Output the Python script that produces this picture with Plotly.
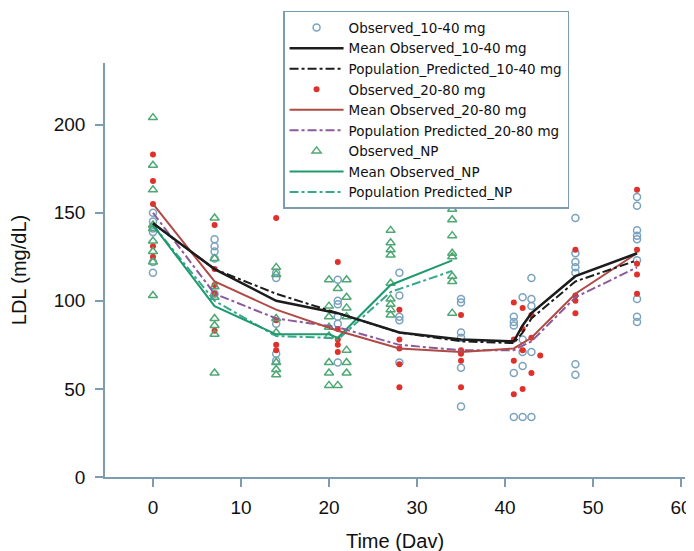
import plotly.graph_objects as go

# ---------------- data ----------------
# Observed 10-40 mg (open circles)
obs1040_x = [0, 0, 0, 0, 0, 0,
             7, 7, 7, 7, 7,
             14, 14, 14, 14, 14,
             21, 21, 21, 21, 21, 21,
             28, 28, 28, 28, 28,
             35, 35, 35, 35, 35, 35,
             41, 41, 41, 41, 41, 42, 42, 42, 42, 42, 43, 43, 43, 43, 43,
             48, 48, 48, 48, 48, 48, 48,
             55, 55, 55, 55, 55, 55, 55, 55, 55]
obs1040_y = [150, 145, 141, 122, 116, 139,
             135, 131, 128, 124, 104,
             116, 113, 87, 70, 66,
             112, 100, 98, 91, 87, 65,
             116, 103, 91, 89, 65,
             101, 99, 82, 79, 62, 40,
             91, 88, 86, 59, 34, 102, 78, 71, 63, 34, 113, 101, 97, 71, 34,
             147, 127, 122, 119, 116, 64, 58,
             159, 154, 140, 137, 135, 123, 101, 91, 88]

# Observed 20-80 mg (filled red dots)
obs2080_x = [0, 0, 0, 0, 0,
             7, 7, 7, 7, 7,
             14, 14, 14, 14,
             21, 21, 21, 21, 21,
             28, 28, 28, 28, 28,
             35, 35, 35, 35, 35,
             41, 41, 41, 41, 42, 42, 42, 42, 43, 43, 43, 44,
             48, 48, 48, 48,
             55, 55, 55, 55, 55]
obs2080_y = [183, 168, 155, 131, 125,
             143, 118, 109, 104, 83,
             147, 89, 75, 72,
             122, 84, 78, 75, 71,
             95, 78, 73, 64, 51,
             92, 72, 70, 66, 51,
             99, 78, 66, 47, 96, 84, 72, 50, 92, 79, 59, 69,
             129, 103, 100, 93,
             163, 129, 121, 115, 104]

# Observed NP (open triangles)
obsnp_x = [0, 0, 0, 0, 0, 0, 0, 0, 0,
           7, 7, 7, 7, 7, 7, 7, 7,
           14, 14, 14, 14, 14, 14, 14,
           20, 22, 21, 22, 20, 22, 20, 22, 20, 20, 22, 20, 22, 20, 22, 20, 21,
           27, 27, 27, 27, 27, 27, 27, 27, 27,
           34, 34, 34, 34, 34, 34, 34, 34]
obsnp_y = [204, 177, 163, 143, 141, 134, 128, 122, 103,
           147, 124, 108, 102, 90, 86, 81, 59,
           119, 115, 90, 82, 65, 61, 58,
           112, 112, 107, 102, 97, 96, 91, 91, 85, 80, 72, 65, 65, 59, 59, 52, 52,
           140, 133, 129, 126, 110, 101, 98, 95, 92,
           152, 146, 137, 127, 125, 114, 111, 93]

# Mean observed / population predicted curves
mean1040_x = [0, 7, 14, 21, 28, 35, 41, 42, 43, 48, 55]
mean1040_y = [144, 118, 100, 93, 82, 78, 77, 86, 93, 114, 127]
pred1040_x = [0, 7, 14, 21, 28, 35, 41, 42, 43, 48, 55]
pred1040_y = [144, 118, 104, 93, 82, 77, 76, 82, 90, 111, 123]

mean2080_x = [0, 7, 14, 21, 28, 35, 41, 43, 48, 55]
mean2080_y = [155, 111, 95, 83, 73, 71, 73, 79, 104, 127]
pred2080_x = [0, 7, 14, 21, 28, 35, 41, 43, 48, 55]
pred2080_y = [150, 104, 90, 85, 75, 72, 72, 77, 102, 119]

meannp_x = [0, 7, 14, 20, 21, 27, 34]
meannp_y = [143, 97, 81, 81, 79, 109, 123]
prednp_x = [0, 7, 14, 20, 21, 27, 34]
prednp_y = [143, 100, 80, 79, 78, 105, 117]

x_ticks = [0, 10, 20, 30, 40, 50, 60]
y_ticks = [0, 50, 100, 150, 200]

# ---------------- styling ----------------
FONT = "Arial, Liberation Sans, sans-serif"
LEG_FONT = "DejaVu Sans, Arial, sans-serif"
AXIS_COL = "#7d9cb2"
C_CIRC = "#7ba3c0"
C_RED = "#e0302a"
C_TRI = "#4fa874"
C_BLACK = "#1c1c1c"
C_REDLINE = "#b04a44"
C_PURPLE = "#8a5a9a"
C_GREEN = "#1f9a6e"
C_GREENPRED = "#38a88c"

fig = go.Figure()

# markers first (drawn underneath), legend order set with legendrank
fig.add_trace(go.Scatter(x=obs1040_x, y=obs1040_y, mode="markers",
                         name="Observed_10-40 mg", legendrank=1,
                         marker=dict(symbol="circle-open", size=7, color=C_CIRC,
                                     line=dict(width=1.5, color=C_CIRC))))
fig.add_trace(go.Scatter(x=obs2080_x, y=obs2080_y, mode="markers",
                         name="Observed_20-80 mg", legendrank=4,
                         marker=dict(symbol="circle", size=6, color=C_RED)))
fig.add_trace(go.Scatter(x=obsnp_x, y=obsnp_y, mode="markers",
                         name="Observed_NP", legendrank=7,
                         marker=dict(symbol="triangle-up-open", size=8, color=C_TRI,
                                     line=dict(width=1.5, color=C_TRI))))

fig.add_trace(go.Scatter(x=prednp_x, y=prednp_y, mode="lines",
                         name="Population Predicted_NP", legendrank=9,
                         line=dict(color=C_GREENPRED, width=2, dash="dashdot")))
fig.add_trace(go.Scatter(x=meannp_x, y=meannp_y, mode="lines",
                         name="Mean Observed_NP", legendrank=8,
                         line=dict(color=C_GREEN, width=2)))
fig.add_trace(go.Scatter(x=pred2080_x, y=pred2080_y, mode="lines",
                         name="Population Predicted_20-80 mg", legendrank=6,
                         line=dict(color=C_PURPLE, width=2, dash="dashdot")))
fig.add_trace(go.Scatter(x=mean2080_x, y=mean2080_y, mode="lines",
                         name="Mean Observed_20-80 mg", legendrank=5,
                         line=dict(color=C_REDLINE, width=2)))
fig.add_trace(go.Scatter(x=pred1040_x, y=pred1040_y, mode="lines",
                         name="Population_Predicted_10-40 mg", legendrank=3,
                         line=dict(color=C_BLACK, width=2, dash="dashdot")))
fig.add_trace(go.Scatter(x=mean1040_x, y=mean1040_y, mode="lines",
                         name="Mean Observed_10-40 mg", legendrank=2,
                         line=dict(color=C_BLACK, width=2.5)))

axis_common = dict(showline=True, linecolor=AXIS_COL, linewidth=1.5,
                   ticks="outside", tickcolor=AXIS_COL, ticklen=8, tickwidth=1.5,
                   showgrid=False, zeroline=False,
                   tickfont=dict(family=FONT, size=19, color="#111111"))

fig.update_layout(
    width=694, height=551,
    margin=dict(l=97, r=17, t=55, b=82, autoexpand=False),
    paper_bgcolor="white", plot_bgcolor="white",
    font=dict(family=FONT, color="#111111"),
    xaxis=dict(range=[-5.45, 60.45], tickvals=x_ticks, ticklabelstandoff=4,
               title=dict(text="Time (Dav)", font=dict(family=FONT, size=20), standoff=17),
               **axis_common),
    yaxis=dict(range=[0, 235], tickvals=y_ticks, ticklabelstandoff=6,
               title=dict(text="LDL (mg/dL)", font=dict(family=FONT, size=20), standoff=22),
               **axis_common),
    legend=dict(x=0.307, y=1.126, xanchor="left", yanchor="top",
                bgcolor="white", bordercolor=AXIS_COL, borderwidth=1.5,
                font=dict(family=LEG_FONT, size=13.5, color="#111111"),
                tracegroupgap=0, itemwidth=54, traceorder="normal"),
    showlegend=True,
)

fig.write_html("out.html")
